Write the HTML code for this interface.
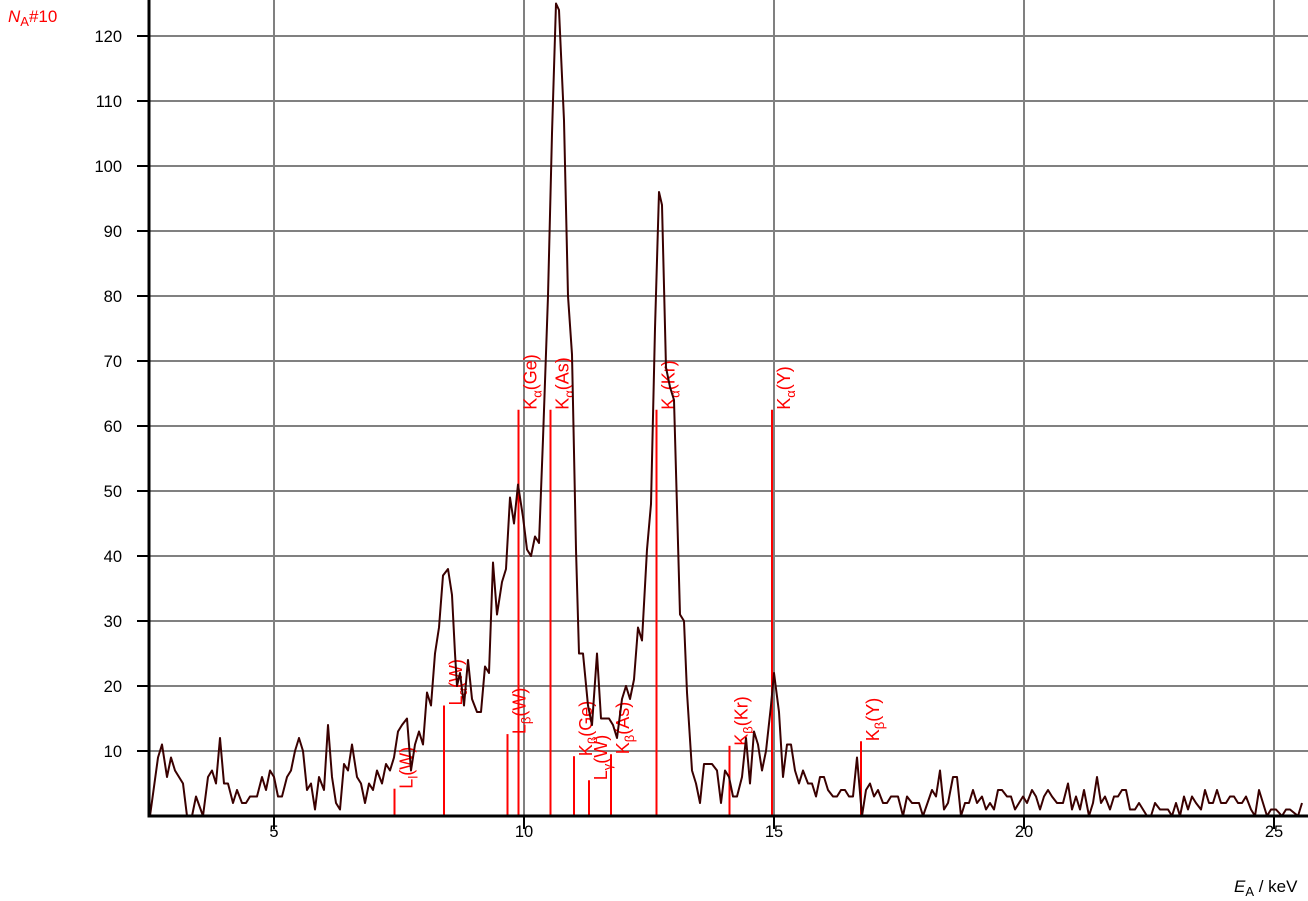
<!DOCTYPE html>
<html><head><meta charset="utf-8"><style>
body{margin:0;background:#fff}
svg{display:block;font-family:"Liberation Sans",sans-serif}
</style></head><body>
<svg id="chart" width="1308" height="901" viewBox="0 0 1308 901" xmlns="http://www.w3.org/2000/svg">
<g id="grid"></g>
<g id="lines"></g>
<path id="spec" fill="none" stroke="#3a0000" stroke-width="2" stroke-linejoin="round"></path>
<g id="axes"></g>
<text x="8" y="22" fill="#ff0000" font-size="17"><tspan font-style="italic">N</tspan><tspan font-size="13" dy="4">A</tspan><tspan dy="-4">#10</tspan></text>
<text x="1234" y="892" fill="#000" font-size="17"><tspan font-style="italic">E</tspan><tspan font-size="13" dy="4">A</tspan><tspan dy="-4"> / keV</tspan></text>
</svg>
<script>
const xTicks=[5,10,15,20,25];
const yTicks=[10,20,30,40,50,60,70,80,90,100,110,120];
// spectrum: energies (keV) from pixel reads, counts
const specPx=[150,158,162,167,171,175,183,187,192,196,203,208,212,216,220,224,228,233,237,242,246,250,257,262,266,270,274,278,282,287,291,295,299,303,307,311,315,319,324,328,332,336,340,344,348,352,357,361,365,369,373,377,382,386,390,394,398,402,407,411,415,419,423,427,431,435,439,443,448,452,455,457,460,464,468,472,477,481,485,489,493,497,502,506,510,514,518,523,527,531,535,539,543,548,552,556,559,564,568,572,576,579,583,588,592,597,601,605,609,613,617,622,626,630,634,638,642,647,651,655,659,662,666,670,674,680,684,687,692,696,700,704,712,717,721,725,729,733,737,742,746,750,754,758,762,766,771,774,779,783,787,791,795,799,803,808,812,816,820,824,828,833,837,841,845,849,853,857,862,866,870,874,878,883,887,891,898,903,907,912,919,923,932,936,940,944,948,953,957,961,965,969,973,977,982,986,990,994,998,1002,1007,1011,1015,1019,1023,1027,1032,1036,1040,1044,1048,1052,1057,1063,1068,1072,1076,1080,1084,1089,1093,1097,1101,1105,1110,1114,1118,1122,1126,1130,1135,1139,1143,1147,1151,1155,1160,1168,1172,1176,1180,1184,1188,1192,1196,1201,1205,1209,1213,1217,1221,1226,1230,1234,1238,1242,1246,1251,1255,1259,1267,1271,1276,1282,1286,1290,1298,1302,1307];
const energies=specPx.map(p=>p/50-0.48);
const counts=[0,9,11,6,9,7,5,0,0,3,0,6,7,5,12,5,5,2,4,2,2,3,3,6,4,7,6,3,3,6,7,10,12,10,4,5,1,6,4,14,6,2,1,8,7,11,6,5,2,5,4,7,5,8,7,9,13,14,15,7,11,13,11,19,17,25,29,37,38,34,25,20,22,17,24,18,16,16,23,22,39,31,36,38,49,45,51,46,41,40,43,42,58,80,105,125,124,107,80,71,41,25,25,17,14,25,15,15,15,14,12,18,20,18,21,29,27,41,48,75,96,94,69,66,64,31,30,19,7,5,2,8,8,7,2,7,6,3,3,6,12,5,13,11,7,10,17,22,16,6,11,11,7,5,7,5,5,3,6,6,4,3,3,4,4,3,3,9,0,4,5,3,4,2,2,3,3,0,3,2,2,0,4,3,7,1,2,6,6,0,2,2,4,2,3,1,2,1,4,4,3,3,1,2,3,2,4,3,1,3,4,3,2,2,5,1,3,1,4,0,2,6,2,3,1,3,3,4,4,1,1,2,1,0,0,2,1,1,0,2,0,3,1,3,2,1,4,2,2,4,2,2,3,3,2,2,3,1,0,4,0,1,1,0,1,1,0,2];
const lineNames=["L|l|(W)","L|α|(W)","L|β|(W)","K|α|(Ge)","K|α|(As)","K|β|(Ge)","L|γ|(W)","K|β|(As)","K|α|(Kr)","K|β|(Kr)","K|α|(Y)","K|β|(Y)"];
const lineE=[7.41,8.40,9.67,9.89,10.53,11.00,11.30,11.74,12.65,14.11,14.96,16.74];
const lineH=[4.2,17,12.6,62.5,62.5,9.2,5.5,9.5,62.5,10.8,62.5,11.5];
const X=e=>149+(e-2.5)*50, Y=v=>816-v*6.5;
const NS="http://www.w3.org/2000/svg";
function mk(t,a,p){const e=document.createElementNS(NS,t);for(const k in a)e.setAttribute(k,a[k]);p.appendChild(e);return e;}
const grid=document.getElementById('grid'),axes=document.getElementById('axes'),lg=document.getElementById('lines');
xTicks.forEach(t=>{
 const l=mk('line',{x1:X(t),x2:X(t),y1:0,y2:816,stroke:'#808080','stroke-width':2},grid);
 
 
 const tk=mk('line',{x1:X(t),x2:X(t),y1:816,y2:829,stroke:'#000','stroke-width':2},axes);
 
 
 const tx=mk('text',{x:X(t),y:837,'text-anchor':'middle','font-size':16.5},axes);
 tx.textContent=t;
 
 
});
yTicks.forEach(t=>{
 const l=mk('line',{x1:149,x2:1308,y1:Y(t),y2:Y(t),stroke:'#808080','stroke-width':2},grid);
 
 
 const tk=mk('line',{x1:137,x2:149,y1:Y(t),y2:Y(t),stroke:'#000','stroke-width':2},axes);
 
 
 const tx=mk('text',{x:122,y:Y(t)+6,'text-anchor':'end','font-size':16.5},axes);
 tx.textContent=t;
 
 
});
const ax=mk('path',{d:'M149,0V816H1308',fill:'none',stroke:'#000','stroke-width':3},axes);


lineNames.forEach((n,i)=>{
 const x=X(lineE[i]),top=Y(lineH[i]);
 const l=mk('line',{x1:x,x2:x,y1:816,y2:top,stroke:'#ff0000','stroke-width':2},lg);
 
 
 const p=n.split('|');
 const tx=mk('text',{transform:`translate(${x+18},${top}) rotate(-90)`,fill:'#ff0000','font-size':18},lg);
 
 
 const a=mk('tspan',{},tx);a.textContent=p[0];
 const b=mk('tspan',{dy:5,'font-size':13},tx);b.textContent=p[1];
 const c=mk('tspan',{dy:-5},tx);c.textContent=p[2];
});
document.getElementById('spec').setAttribute('d',energies.map((e,i)=>(i?'L':'M')+X(e).toFixed(1)+','+Y(counts[i]).toFixed(1)).join(''));
</script>
</body></html>
